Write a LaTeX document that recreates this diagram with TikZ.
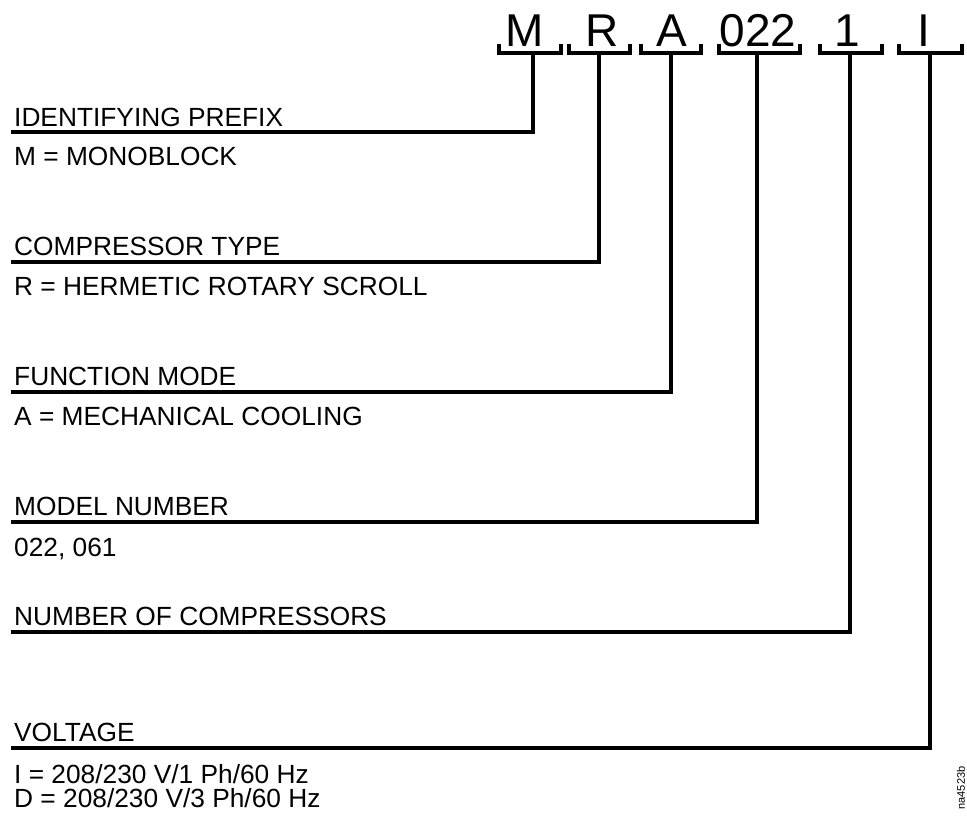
\documentclass[tikz,border=0pt]{standalone}
\usepackage{fontspec}
\setmainfont{Liberation Sans}
\begin{document}
\begin{tikzpicture}[x=1pt,y=-1pt,
  code/.style={inner sep=0pt,anchor=base,font=\fontsize{46}{46}\selectfont},
  lbl/.style={inner sep=0pt,anchor=base west,font=\fontsize{26.3}{28}\selectfont},
  desc/.style={inner sep=0pt,anchor=base west,font=\fontsize{26.3}{28}\selectfont},
  br/.style={line width=4pt,line cap=butt,line join=miter},
  lead/.style={line width=4pt,line join=miter}]
\useasboundingbox (0,0) rectangle (967,817);
% code letters
\node[code] (cM) at (525,46) {M};
\node[code] (cR) at (602,46) {R};
\node[code] (cA) at (672,46) {A};
\node[code] (cN) at (758,46) {022};
\node[code] (cC) at (847,46) {1};
\node[code] (cV) at (924,46) {I};
% brackets
\draw[br] (499,43.5) |- (561,52.5) -- (561,43.5);
\draw[br] (569,43.5) |- (630,52.5) -- (630,43.5);
\draw[br] (641,43.5) |- (701,52.5) -- (701,43.5);
\draw[br] (719,43.5) |- (800,52.5) -- (800,43.5);
\draw[br] (820,43.5) |- (882,52.5) -- (882,43.5);
\draw[br] (899,43.5) |- (962,52.5) -- (962,43.5);
\coordinate (sM) at (533,52.5);
\coordinate (sR) at (599,52.5);
\coordinate (sA) at (671,52.5);
\coordinate (sN) at (757,52.5);
\coordinate (sC) at (850,52.5);
\coordinate (sV) at (930,52.5);
% labels
\node[lbl] (lM) at (14,126) {IDENTIFYING PREFIX};
\node[lbl] (lR) at (14,255) {COMPRESSOR TYPE};
\node[lbl] (lA) at (14,385) {FUNCTION MODE};
\node[lbl] (lN) at (14,515) {MODEL NUMBER};
\node[lbl] (lC) at (14,625) {NUMBER OF COMPRESSORS};
\node[lbl] (lV) at (14,741) {VOLTAGE};
\coordinate (eM) at (11,132);
\coordinate (eR) at (11,262);
\coordinate (eA) at (11,392);
\coordinate (eN) at (11,522);
\coordinate (eC) at (11,632);
\coordinate (eV) at (11,748);
\draw[lead] (sM) |- (eM);
\draw[lead] (sR) |- (eR);
\draw[lead] (sA) |- (eA);
\draw[lead] (sN) |- (eN);
\draw[lead] (sC) |- (eC);
\draw[lead] (sV) |- (eV);
% descriptions
\node[desc] (dM) at (14,165) {M = MONOBLOCK};
\node[desc] (dR) at (14,295) {R = HERMETIC ROTARY SCROLL};
\node[desc] (dA) at (14,425) {A = MECHANICAL COOLING};
\node[desc] (dN) at (14,556) {022, 061};
\node[desc] (dV1) at (14,783) {I = 208/230 V/1 Ph/60 Hz};
\node[desc] (dV2) at (14,807) {D = 208/230 V/3 Ph/60 Hz};
\node[inner sep=0pt,anchor=center,rotate=90,font=\fontsize{11}{11}\selectfont] (id) at (961,788) {na4523b};
\end{tikzpicture}
\end{document}
